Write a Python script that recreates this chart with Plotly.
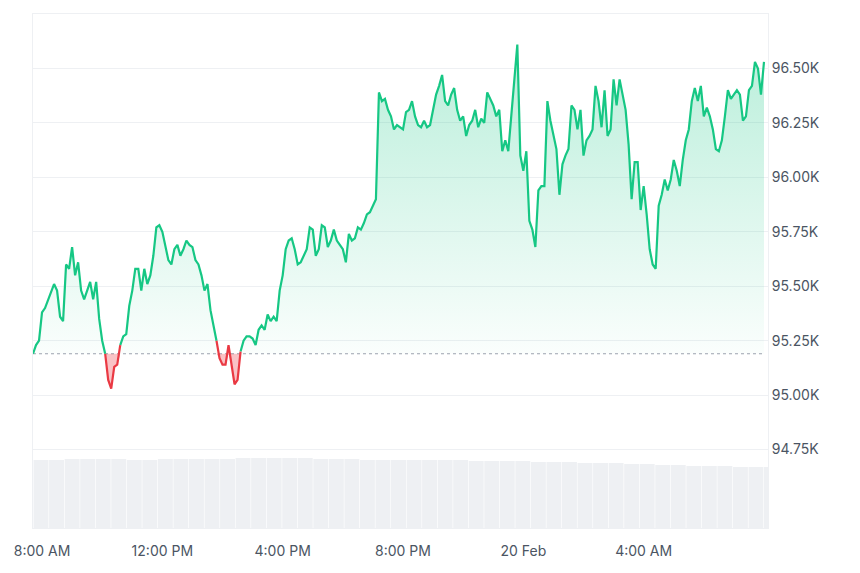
import plotly.graph_objects as go
import pandas as pd

# price in thousands USD, ~6 min steps from 07:42 on 19 Feb
prices = [95.19, 95.23, 95.25, 95.38, 95.40, 95.44, 95.48, 95.51, 95.48, 95.36, 95.34, 95.60, 95.58, 95.68, 95.55, 95.61,
          95.48, 95.44, 95.48, 95.52, 95.44, 95.52, 95.35, 95.25, 95.19, 95.07, 95.03, 95.13, 95.14, 95.23, 95.27, 95.28,
          95.41, 95.48, 95.58, 95.58, 95.48, 95.58, 95.51, 95.55, 95.64, 95.77, 95.78, 95.75, 95.68, 95.62, 95.60, 95.67,
          95.69, 95.64, 95.67, 95.71, 95.69, 95.68, 95.62, 95.60, 95.55, 95.48, 95.51, 95.39, 95.32, 95.25, 95.17, 95.14,
          95.14, 95.23, 95.14, 95.05, 95.07, 95.20, 95.25, 95.27, 95.27, 95.26, 95.23, 95.30, 95.32, 95.30, 95.37, 95.34,
          95.36, 95.34, 95.48, 95.55, 95.67, 95.71, 95.72, 95.67, 95.60, 95.61, 95.64, 95.67, 95.77, 95.76, 95.64, 95.67,
          95.78, 95.77, 95.68, 95.71, 95.76, 95.71, 95.69, 95.67, 95.61, 95.74, 95.71, 95.72, 95.77, 95.76, 95.79, 95.83,
          95.84, 95.87, 95.90, 96.39, 96.35, 96.36, 96.31, 96.28, 96.22, 96.24, 96.23, 96.22, 96.30, 96.31, 96.35, 96.28,
          96.24, 96.23, 96.26, 96.23, 96.24, 96.31, 96.38, 96.42, 96.47, 96.35, 96.33, 96.38, 96.41, 96.31, 96.26, 96.28,
          96.19, 96.24, 96.26, 96.31, 96.23, 96.27, 96.25, 96.39, 96.36, 96.33, 96.28, 96.31, 96.12, 96.17, 96.12, 96.28,
          96.42, 96.61, 96.10, 96.03, 96.12, 95.80, 95.76, 95.68, 95.94, 95.96, 95.96, 96.35, 96.26, 96.19, 96.13, 95.92,
          96.06, 96.10, 96.13, 96.33, 96.31, 96.22, 96.31, 96.10, 96.17, 96.19, 96.22, 96.42, 96.35, 96.23, 96.40, 96.19,
          96.22, 96.45, 96.33, 96.45, 96.38, 96.31, 96.15, 95.90, 96.07, 96.07, 95.85, 95.96, 95.83, 95.67, 95.60, 95.58,
          95.87, 95.92, 95.99, 95.94, 95.99, 96.08, 96.03, 95.96, 96.08, 96.17, 96.22, 96.35, 96.41, 96.35, 96.42, 96.28,
          96.32, 96.28, 96.22, 96.13, 96.12, 96.17, 96.28, 96.40, 96.36, 96.38, 96.40, 96.38, 96.26, 96.28, 96.40, 96.42,
          96.53, 96.50, 96.38, 96.53]

# relative volume, ~30 min buckets
volumes = [68, 68, 69, 69, 69, 69, 68, 68, 69, 69, 69, 69, 69, 70, 70, 70, 70, 70, 69, 69, 69, 68, 68, 68,
           68, 68, 68, 68, 67, 67, 67, 67, 66, 66, 66, 65, 65, 65, 64, 64, 63, 63, 62, 62, 62, 61, 61, 61]

tick_vals = ["2025-02-19 08:00", "2025-02-19 12:00", "2025-02-19 16:00", "2025-02-19 20:00",
             "2025-02-20 00:00", "2025-02-20 04:00"]
tick_text = ["8:00 AM", "12:00 PM", "4:00 PM", "8:00 PM", "20 Feb", "4:00 AM"]
price_ticks = [94.75, 95.0, 95.25, 95.5, 95.75, 96.0, 96.25, 96.5]

times = pd.date_range("2025-02-19 07:42", periods=len(prices), freq="6min")
vol_times = pd.date_range("2025-02-19 07:58", periods=len(volumes), freq="31min")
base = prices[0]

upper = [max(p, base) for p in prices]
lower = [min(p, base) for p in prices]
below = [p < base for p in prices]
red_line = [p if (below[i] or (i > 0 and below[i - 1]) or (i + 1 < len(prices) and below[i + 1])) else None
            for i, p in enumerate(prices)]
green_line = [p if not below[i] else None for i, p in enumerate(prices)]

fig = go.Figure()
fig.add_trace(go.Bar(x=vol_times, y=volumes, yaxis="y2", marker_color="#eef0f3",
                     marker_line_width=0, width=31 * 60 * 1000 * 0.96))
fig.add_trace(go.Scatter(x=times, y=[base] * len(prices), mode="lines",
                         line=dict(color="#9ca3af", width=1.2, dash="dot")))
fig.add_trace(go.Scatter(x=times, y=upper, mode="lines", line=dict(width=0), fill="tonexty",
                         fillgradient=dict(type="vertical",
                                           colorscale=[[0, "rgba(22,199,132,0.02)"], [1, "rgba(22,199,132,0.3)"]])))
fig.add_trace(go.Scatter(x=times, y=[base] * len(prices), mode="lines", line=dict(width=0)))
fig.add_trace(go.Scatter(x=times, y=lower, mode="lines", line=dict(width=0), fill="tonexty",
                         fillcolor="rgba(234,57,67,0.3)"))
fig.add_trace(go.Scatter(x=times, y=green_line, mode="lines", line=dict(color="#16c784", width=2.2)))
fig.add_trace(go.Scatter(x=times, y=red_line, mode="lines", line=dict(color="#ea3943", width=2.2)))

fig.update_layout(
    width=852, height=565, showlegend=False,
    margin=dict(l=25, r=92, t=6, b=45),
    plot_bgcolor="white", paper_bgcolor="white",
    font=dict(family="Inter", size=14, color="#4b5563"),
    xaxis=dict(range=[times[0], times[-1] + pd.Timedelta(minutes=8)], tickvals=tick_vals, ticktext=tick_text,
               showgrid=False, ticks="outside", ticklen=10, tickcolor="rgba(0,0,0,0)",
               showline=True, linecolor="#eef0f3", mirror=True),
    yaxis=dict(range=[94.39, 96.75], side="right", tickvals=price_ticks,
               ticktext=[f"{v:.2f}K" for v in price_ticks], gridcolor="#eef0f3", zeroline=False,
               showline=True, linecolor="#eef0f3", mirror=True),
    yaxis2=dict(range=[0, 514], overlaying="y", visible=False),
)

fig.write_html("out.html")
